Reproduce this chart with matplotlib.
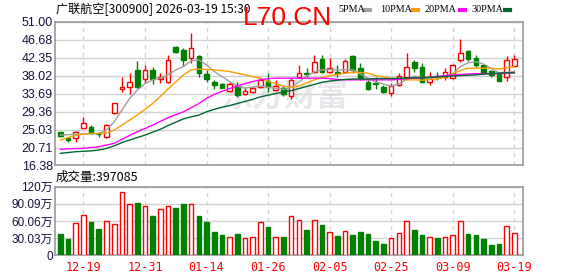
import numpy as np
import matplotlib
matplotlib.use('Agg')
from matplotlib import pyplot as plt

plt.rcParams['font.family'] = ['Liberation Sans', 'Noto Sans CJK SC', 'DejaVu Sans']

# 交易日期
dates = ['12-16', '12-17', '12-18', '12-19', '12-22', '12-23', '12-24', '12-25', '12-26', '12-29',
         '12-30', '12-31', '01-05', '01-06', '01-07', '01-08', '01-09', '01-12', '01-13', '01-14',
         '01-15', '01-16', '01-19', '01-20', '01-21', '01-22', '01-23', '01-26', '01-27', '01-28',
         '01-29', '01-30', '02-02', '02-03', '02-04', '02-05', '02-06', '02-09', '02-10', '02-11',
         '02-12', '02-13', '02-24', '02-25', '02-26', '02-27', '03-02', '03-03', '03-04', '03-05',
         '03-06', '03-09', '03-10', '03-11', '03-12', '03-13', '03-16', '03-17', '03-18', '03-19']

opens = [24.36, 22.9, 22.9, 25.3, 25.56, 24.0, 23.15, 28.93, 34.8, 35.2,
         39.36, 37.1, 39.36, 37.1, 36.4, 44.98, 44.3, 42.17, 42.73, 38.4,
         36.4, 35.9, 34.31, 35.5, 33.6, 34.07, 35.19, 36.8, 34.55, 34.95,
         33.1, 37.6, 38.72, 38.96, 41.93, 38.96, 38.9, 38.96, 42.73, 39.92,
         36.55, 36.2, 35.19, 33.9, 35.75, 37.6, 41.37, 40.16, 36.55, 37.9,
         37.76, 37.36, 41.77, 43.9, 42.17, 40.57, 39.2, 38.56, 37.76, 40.3]
closes = [23.4, 22.43, 24.36, 26.5, 24.28, 23.9, 26.1, 31.34, 35.2, 36.6,
          35.35, 39.3, 37.2, 37.76, 41.77, 43.78, 41.77, 44.58, 38.56, 37.2,
          35.75, 35.1, 35.9, 33.35, 34.3, 35.03, 36.96, 35.19, 35.6, 33.5,
          36.96, 38.56, 38.4, 41.37, 38.96, 39.92, 38.6, 41.53, 39.36, 37.36,
          34.7, 36.1, 34.15, 35.5, 37.92, 40.16, 39.92, 36.55, 37.76, 37.6,
          38.96, 40.57, 43.5, 41.93, 40.57, 38.56, 38.16, 36.72, 41.77, 41.93]
highs = [24.5, 23.2, 24.68, 28.1, 26.1, 24.5, 26.3, 31.5, 37.6, 38.7,
         41.5, 40.6, 40.2, 38.72, 42.97, 45.2, 44.7, 48.35, 42.97, 39.36,
         36.96, 36.3, 36.55, 36.55, 35.2, 35.5, 37.6, 38.56, 36.96, 35.5,
         37.35, 40.56, 39.77, 43.1, 42.97, 42.17, 40.6, 41.9, 42.9, 40.97,
         36.9, 37.6, 35.75, 36.15, 38.72, 43.5, 41.7, 40.97, 38.96, 38.9,
         39.76, 40.8, 46.75, 44.3, 42.97, 40.7, 39.4, 38.9, 42.73, 42.97]
lows = [23.15, 22.03, 22.1, 25.3, 23.87, 23.2, 23.0, 28.8, 34.1, 33.5,
        35.1, 36.15, 36.0, 36.15, 36.15, 43.4, 40.3, 40.97, 37.6, 36.55,
        34.7, 34.95, 34.15, 32.8, 33.3, 33.8, 34.95, 34.15, 34.3, 33.2,
        32.3, 37.35, 37.6, 38.56, 38.56, 38.56, 37.76, 38.6, 38.56, 36.96,
        34.5, 34.7, 33.75, 33.1, 35.5, 37.35, 39.0, 36.15, 35.75, 36.9,
        37.0, 37.1, 41.37, 41.5, 40.16, 38.4, 37.8, 36.72, 36.72, 40.16]

ma5 = [23.7, 23.8, 23.9, 24.0, 24.0, 24.1, 24.9, 26.9, 29.7, 32.5,
       34.5, 36.1, 37.0, 37.4, 38.2, 39.4, 40.2, 41.6, 41.8, 40.6,
       39.0, 37.8, 36.6, 35.5, 35.0, 35.2, 35.5, 35.2, 35.0, 34.7,
       35.2, 36.5, 37.9, 38.9, 39.4, 39.5, 39.4, 39.4, 39.4, 38.4,
       37.4, 36.5, 36.0, 35.5, 36.0, 37.1, 37.9, 37.6, 37.4, 37.6,
       37.8, 38.4, 40.2, 41.1, 41.4, 40.8, 39.8, 38.7, 38.8, 39.0]
ma10 = [22.5, 23.1, 23.7, 23.9, 24.1, 24.1, 24.2, 24.9, 26.1, 27.3,
        28.5, 29.9, 31.3, 33.0, 34.8, 36.5, 38.2, 39.4, 39.6, 39.5,
        39.4, 39.2, 39.0, 38.6, 38.2, 37.8, 37.4, 36.6, 36.1, 35.5,
        35.2, 35.5, 36.2, 37.0, 37.5, 38.0, 38.3, 38.6, 38.8, 38.8,
        38.6, 38.0, 37.7, 37.4, 37.2, 37.0, 37.0, 36.9, 37.1, 37.2,
        37.6, 38.5, 39.2, 39.8, 39.8, 39.8, 39.8, 39.6, 39.9, 40.2]
ma20 = [20.3, 20.4, 20.45, 20.5, 20.7, 20.9, 21.3, 21.7, 22.7, 23.6,
        24.5, 25.3, 26.1, 27.0, 27.9, 28.6, 29.3, 30.3, 31.3, 32.5,
        33.5, 34.2, 34.9, 35.5, 36.1, 36.6, 37.0, 37.3, 37.4, 37.4,
        37.4, 37.4, 37.4, 37.4, 37.4, 37.3, 37.1, 37.0, 37.0, 37.0,
        37.0, 37.0, 37.0, 37.0, 37.1, 37.3, 37.4, 37.5, 37.6, 37.8,
        38.0, 38.2, 38.3, 38.4, 38.5, 38.5, 38.5, 38.5, 38.6, 38.7]
ma30 = [19.3, 19.5, 19.7, 19.8, 19.9, 20.1, 20.5, 21.1, 21.9, 22.5,
        23.1, 23.7, 24.4, 25.1, 26.0, 26.8, 27.6, 28.1, 28.5, 29.3,
        29.9, 30.4, 30.8, 31.3, 31.8, 32.3, 32.9, 33.3, 33.7, 34.1,
        34.4, 34.9, 35.4, 35.9, 36.4, 36.7, 36.9, 37.1, 37.2, 37.2,
        37.2, 37.3, 37.3, 37.3, 37.4, 37.4, 37.5, 37.5, 37.6, 37.7,
        37.8, 37.9, 38.0, 38.1, 38.2, 38.4, 38.5, 38.6, 38.7, 38.7]

# 成交量(万股)
volumes = [37.5, 28.3, 56.0, 69.9, 57.8, 45.6, 60.6, 54.3, 110.9, 90.0,
           90.7, 85.5, 68.7, 80.3, 85.5, 82.0, 89.0, 89.0, 68.7, 58.3,
           40.4, 35.8, 31.2, 37.5, 29.5, 31.2, 58.9, 49.0, 32.9, 31.8,
           68.1, 62.4, 43.9, 62.4, 52.6, 41.6, 33.5, 43.3, 35.2, 40.4,
           37.0, 24.8, 20.2, 29.5, 39.8, 60.6, 43.9, 35.2, 32.9, 29.5,
           32.9, 34.7, 60.6, 37.0, 35.2, 28.3, 17.9, 19.6, 52.0, 39.7]

price_labels = ['16.38', '20.71', '25.03', '29.36', '33.69', '38.02', '42.35', '46.68', '51.00']
vol_labels = ['0', '30.03万', '60.06万', '90.09万', '120万']

RED = '#ff0000'
GREEN = '#008000'
GRID = '#d3d3d3'
FRAME = '#999999'
LABEL = '#14143c'

fig = plt.figure(figsize=(5.78, 2.76), dpi=100)
ax = fig.add_axes([0.096, 0.4004, 0.808, 0.521])
axv = fig.add_axes([0.096, 0.075, 0.808, 0.2486])

x = np.arange(len(dates))
o = np.array(opens)
c = np.array(closes)
up = c >= o
col = np.where(up, RED, GREEN)

# 水印
ax.text(0.49, 0.47, '东方财富', transform=ax.transAxes, fontsize=23, fontweight='bold',
        color='#e8e8ec', ha='center', va='center', family=['Noto Sans CJK SC'], zorder=0)

# K线
ax.vlines(x, lows, highs, colors=col, linewidth=1, zorder=3)
body = np.maximum(np.abs(c - o), 0.12)
ax.bar(x, body, bottom=np.minimum(o, c), width=0.6,
       color=np.where(up, 'white', GREEN), edgecolor=col, linewidth=1, zorder=4)

ax.plot(x, ma5, color='#a0a0a0', lw=1, zorder=5)
ax.plot(x, ma10, color='#f5a000', lw=1, zorder=5)
ax.plot(x, ma20, color='#ff00ff', lw=1, zorder=5)
ax.plot(x, ma30, color='#006633', lw=1, zorder=5)

yt = np.linspace(16.38, 51.0, 9)
ax.set_ylim(16.38, 51.0)
ax.set_yticks(yt)
ax.set_yticklabels(price_labels)

# 成交量
axv.bar(x, volumes, width=0.6, color=np.where(up, 'white', GREEN), edgecolor=col, linewidth=1, zorder=3)
vt = [0, 30.03, 60.06, 90.09, 120.12]
axv.set_ylim(0, 120.12)
axv.set_yticks(vt)
axv.set_yticklabels(vol_labels)

xt = x[3::8]
for a in (ax, axv):
    a.set_xlim(-0.63, 60.07)
    a.set_xticks(xt)
    a.grid(axis='y', color=GRID, lw=1, zorder=0)
    for t in xt:
        a.axvline(t, color=GRID, lw=1, ls=(0, (3, 3)), zorder=0)
    for s in a.spines.values():
        s.set_color(FRAME)
        s.set_linewidth(1.2)
    a.tick_params(axis='y', length=0, pad=2, labelsize=9, labelcolor=LABEL)
    a.tick_params(axis='x', length=0)
ax.set_xticklabels([])
axv.set_xticklabels([dates[i] for i in xt], color=RED, family='DejaVu Sans Mono', fontsize=8.5)
axv.tick_params(axis='x', pad=4)
axv.tick_params(axis='y', labelsize=8.5)

# 标题与图例
fig.text(0.097, 0.965, '广联航空[300900] 2026-03-19 15:30', fontsize=8.7, va='center',
         family=['Noto Sans CJK SC'])
fig.text(0.42, 0.935, 'L70.CN', fontsize=19, color=RED, va='center', family='Liberation Sans')
items = [('5PMA', '#a0a0a0', 0.585, 0.6315), ('10PMA', '#f5a000', 0.657, 0.7145),
         ('20PMA', '#ff00ff', 0.735, 0.796), ('30PMA', '#006633', 0.815, 0.874)]
for name, cc, px, lx in items:
    fig.text(px, 0.965, name, fontsize=7.3, va='center', family='Liberation Serif')
    fig.lines.append(plt.Line2D([lx, lx + 0.009], [0.965, 0.965], color=cc, lw=3,
                                transform=fig.transFigure))
fig.text(0.097, 0.357, '成交量:397085', fontsize=9, va='center', family=['Noto Sans CJK SC'])

fig.savefig('out.png', dpi=100)
